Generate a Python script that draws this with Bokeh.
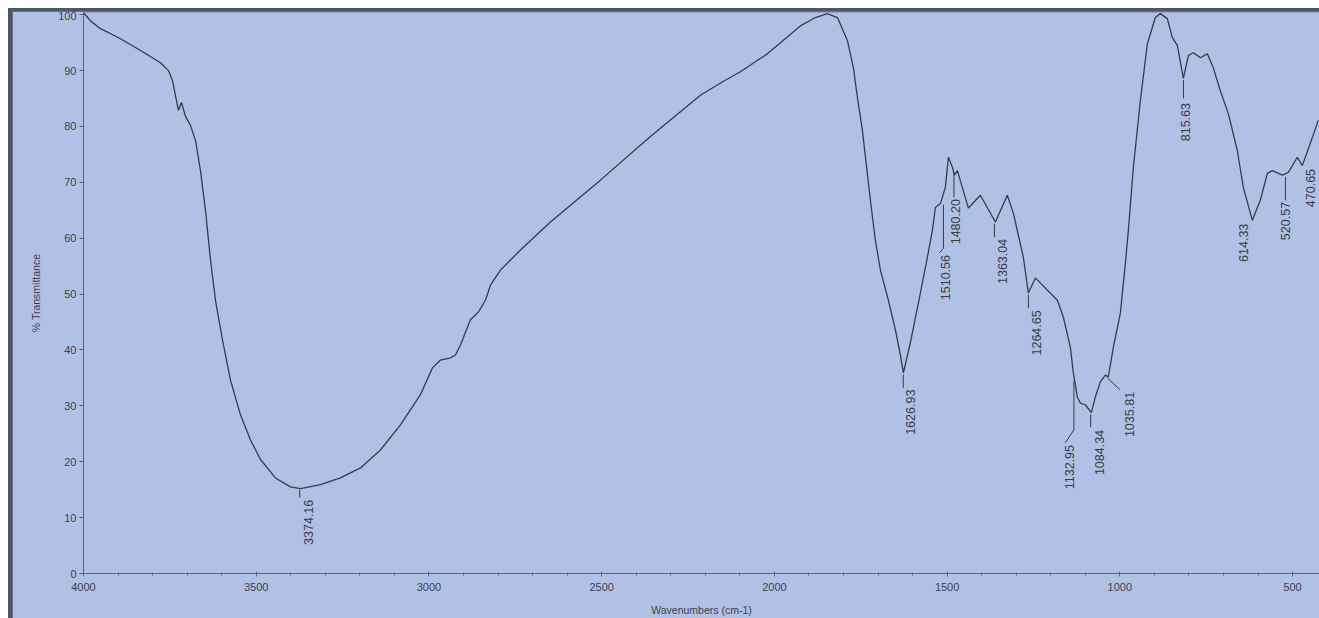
import math
from bokeh.plotting import figure
from bokeh.layouts import column
from bokeh.models import Range1d, ColumnDataSource, FixedTicker
from bokeh.core.properties import value
from bokeh.embed import file_html
from bokeh.resources import INLINE

# ---- spectrum (wavenumber cm-1, % transmittance) ----
wavenumber = [4000.0, 3979.7, 3950.8, 3892.9, 3835.0, 3777.1, 3754.0, 3742.4, 3730.8, 3725.0,
              3716.3, 3704.8, 3690.3, 3675.8, 3661.4, 3646.9, 3632.4, 3617.9, 3597.7, 3574.5,
              3545.6, 3516.6, 3487.7, 3444.3, 3400.8, 3371.9, 3314.0, 3256.2, 3198.3, 3140.4,
              3082.5, 3024.6, 2989.9, 2966.7, 2937.8, 2923.3, 2908.8, 2879.9, 2856.7, 2836.4,
              2822.0, 2793.0, 2735.1, 2648.3, 2503.6, 2358.9, 2214.2, 2150.0, 2098.4, 2020.3,
              1924.8, 1881.3, 1846.6, 1817.6, 1788.7, 1771.3, 1759.7, 1745.2, 1733.6, 1722.1,
              1707.6, 1693.1, 1670.0, 1649.7, 1635.2, 1626.6, 1606.3, 1583.2, 1557.1, 1542.6,
              1533.9, 1519.5, 1505.0, 1496.3, 1484.7, 1478.9, 1470.2, 1438.4, 1403.7, 1360.3,
              1325.6, 1308.2, 1279.3, 1264.8, 1244.5, 1180.9, 1163.5, 1143.3, 1134.6, 1123.0,
              1114.4, 1099.9, 1082.4, 1070.9, 1056.4, 1041.9, 1033.2, 1018.7, 998.5, 984.0,
              975.3, 960.8, 940.6, 920.3, 897.2, 882.7, 862.4, 848.0, 833.5, 816.1,
              801.7, 787.2, 766.9, 746.7, 729.3, 709.1, 685.9, 659.9, 642.5, 616.4,
              593.3, 573.0, 558.5, 529.6, 512.2, 486.2, 471.7, 448.6, 425.5]
transmittance = [100.4, 98.9, 97.5, 95.7, 93.6, 91.4, 90.0, 88.2, 84.6, 82.9,
                 84.3, 81.8, 80.2, 77.5, 72.1, 65.0, 56.1, 48.9, 41.8, 34.6,
                 28.4, 23.9, 20.4, 17.1, 15.5, 15.2, 15.9, 17.1, 18.9, 22.1,
                 26.6, 32.0, 36.8, 38.2, 38.6, 39.1, 40.9, 45.4, 46.8, 48.9,
                 51.6, 54.3, 57.9, 62.9, 70.4, 78.2, 85.6, 88.0, 89.8, 93.0,
                 98.0, 99.5, 100.2, 99.5, 95.4, 90.5, 85.2, 79.3, 73.0, 66.8,
                 59.6, 54.3, 48.9, 43.6, 39.1, 35.9, 41.3, 48.4, 56.6, 61.4,
                 65.5, 66.2, 69.1, 74.5, 72.7, 71.3, 72.1, 65.4, 67.7, 62.9,
                 67.7, 64.5, 56.6, 50.2, 52.9, 48.9, 45.9, 40.5, 35.9, 31.6,
                 30.5, 30.2, 28.8, 31.6, 34.3, 35.5, 35.2, 40.5, 46.6, 55.5,
                 61.4, 72.7, 84.6, 94.8, 99.5, 100.2, 99.3, 95.9, 94.5, 88.6,
                 92.7, 93.2, 92.3, 93.0, 90.5, 86.4, 82.3, 75.7, 69.1, 63.2,
                 66.8, 71.6, 72.1, 71.3, 71.8, 74.5, 73.0, 77.0, 81.1]

# ---- peak annotations ----
peak_text = ["3374.16", "1626.93", "1510.56", "1480.20", "1363.04", "1264.65",
             "1132.95", "1084.34", "1035.81", "815.63", "614.33", "520.57", "470.65"]
peak_wn = [3374.16, 1626.93, 1510.56, 1480.20, 1363.04, 1264.65,
           1132.95, 1084.34, 1035.81, 815.63, 614.33, 520.57, 470.65]
label_top_T = [13.2, 32.9, 57.0, 67.0, 59.9, 47.1, 23.0, 25.7, 32.5, 84.2, 62.6, 66.5, 72.4]
label_dx = [9, 7, 2, 2, 8, 8, -4, 9, 22, 2, -10, 0, 8]
leader_x = [[3374.16, 3374.16], [1626.93, 1626.93], [1510.56, 1510.56, 1522.0],
            [1480.20, 1480.20], [1363.04, 1363.04], [1264.65, 1264.65],
            [1132.95, 1132.95, 1157.7], [1084.34, 1084.34], [1035.81, 1000.0],
            [815.63, 815.63], [520.57, 520.57]]
leader_y = [[15.0, 13.6], [35.6, 33.2], [66.0, 58.2, 57.4],
            [71.8, 67.3], [62.6, 60.2], [49.9, 47.5],
            [34.5, 25.7, 23.4], [28.5, 26.2], [35.0, 32.9],
            [88.3, 85.0], [71.0, 66.8]]

x_major = [4000, 3500, 3000, 2500, 2000, 1500, 1000, 500]
x_minor = list(range(500, 4001, 100))
y_major = list(range(0, 101, 10))

BG = "#b1c1e5"
INK = "#363b47"
EDGE = "#4d5669"
W, H = 1307, 607

p = figure(width=W, height=H, output_backend="svg", toolbar_location=None,
           x_range=Range1d(4000, 422), y_range=Range1d(0, 100.4),
           min_border_left=71, min_border_right=0, min_border_top=1, min_border_bottom=44,
           margin=(3, 0, 0, 4))
p.background_fill_color = BG
p.border_fill_color = BG
p.outline_line_color = None
p.grid.visible = False

p.line(wavenumber, transmittance, line_color=INK, line_width=1.3)
p.multi_line(leader_x, leader_y, line_color=INK, line_width=1)
src = ColumnDataSource(dict(x=peak_wn, y=label_top_T, t=peak_text, dx=label_dx))
p.text(x="x", y="y", text="t", x_offset="dx", source=src, angle=math.pi / 2,
       text_align="right", text_baseline="middle", text_color=INK,
       text_font=value("Liberation Sans"), text_font_size="12.5px")

for ax in (p.xaxis[0], p.yaxis[0]):
    ax.axis_line_color = "#5d6474"
    ax.major_tick_line_color = "#5d6474"
    ax.minor_tick_line_color = "#5d6474"
    ax.major_label_text_color = "#3c4150"
    ax.major_label_text_font = "Liberation Sans"
    ax.major_label_text_font_size = "11px"
    ax.axis_label_text_color = "#3c4150"
    ax.axis_label_text_font = "Liberation Sans"
    ax.axis_label_text_font_size = "10.5px"
    ax.axis_label_text_font_style = "normal"

p.xaxis.ticker = FixedTicker(ticks=x_major, minor_ticks=x_minor)
p.xaxis.major_tick_in = 2
p.xaxis.major_tick_out = 3
p.xaxis.minor_tick_in = 1
p.xaxis.minor_tick_out = 2
p.xaxis.major_label_standoff = 6
p.xaxis.axis_label = "Wavenumbers (cm-1)"
p.xaxis.axis_label_standoff = 10

p.yaxis.ticker = FixedTicker(ticks=y_major)
p.yaxis.major_tick_in = 0
p.yaxis.major_tick_out = 4
p.yaxis.minor_tick_line_color = None
p.yaxis.major_label_standoff = 3
p.yaxis.axis_label = "% Transmittance"
p.yaxis.axis_label_standoff = 13

# dark top/left edges of the original screenshot show through the figure's margin
layout = column(p, margin=(8, 0, 0, 8), styles={"background-color": EDGE})

open("out.html", "w").write(file_html(layout, INLINE))
